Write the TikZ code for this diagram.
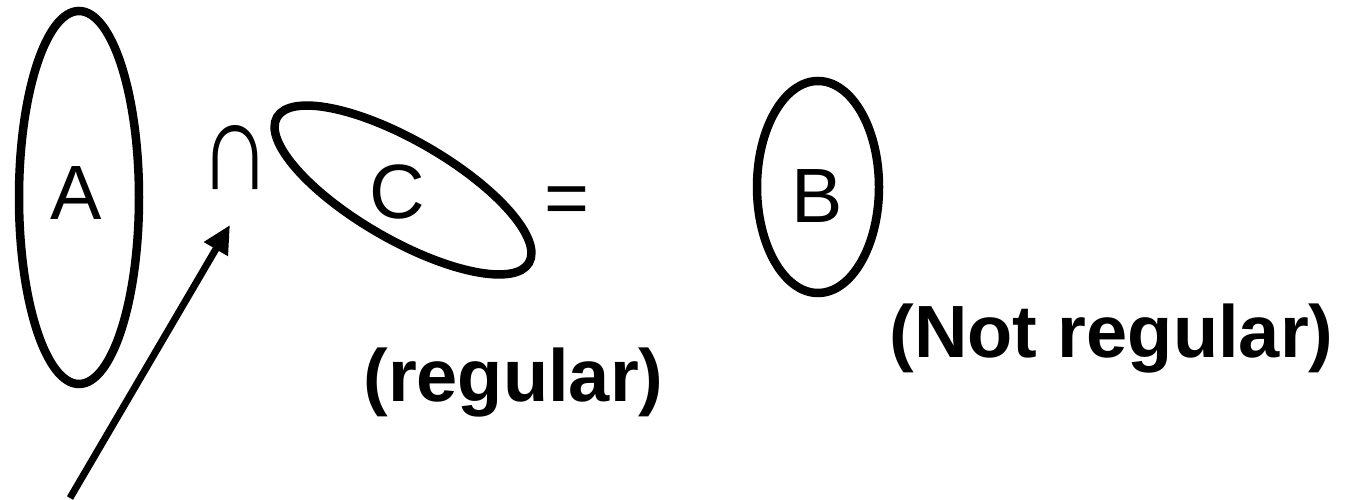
\documentclass[tikz,border=0pt]{standalone}
\usepackage{fontspec}
\setmainfont{Liberation Sans}
\usetikzlibrary{arrows.meta}
\begin{document}
\begin{tikzpicture}[x=1pt,y=1pt,
  setline/.style={line width=8.5pt},
  letter/.style={anchor=base,inner sep=0pt,font=\fontsize{77}{77}\selectfont},
  caption/.style={anchor=base,inner sep=0pt,font=\fontsize{74}{74}\selectfont\bfseries},
  pointer/.style={line width=7pt,-{Triangle[length=28pt,width=26pt]}}]
\useasboundingbox (0,0) rectangle (1346,500);
% sets
\draw[setline] (79,302.5) ellipse (60 and 186.5);
\draw[setline,rotate around={-30:(403,310)}] (403,310) ellipse (145.5 and 49.5);
\draw[setline] (818,313) ellipse (61 and 106);
% letters
\node[letter] (A) at (76,280) {A};
\node[letter] (cap) at (235,310) {\scalebox{1.3}[1.65]{∩}};
\node[letter] (C) at (397,281) {C};
\node[letter] (eq) at (567,275) {=};
\node[letter] (B) at (817.5,277) {B};
% captions
\node[caption] (reg) at (513.5,98) {(regular)};
\node[caption] (nreg) at (1111.5,142) {(Not regular)};
% arrow
\coordinate (tail) at (70,2);
\coordinate (tip) at (230,275);
\draw[pointer] (tail) -- (tip);
\end{tikzpicture}
\end{document}
